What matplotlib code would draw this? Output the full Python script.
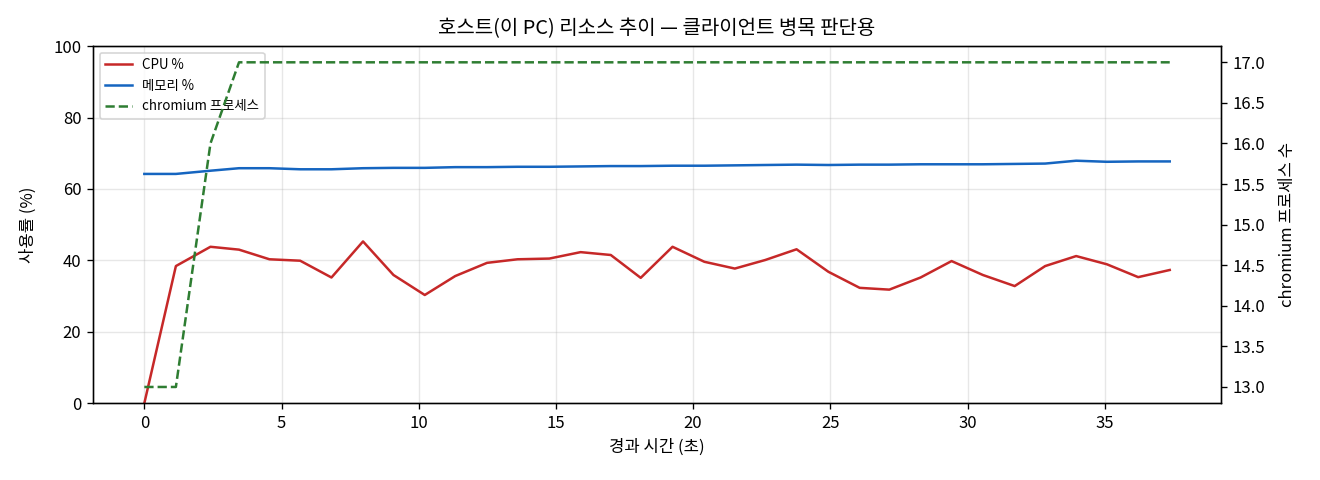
import matplotlib
matplotlib.use("Agg")
import matplotlib.pyplot as plt

plt.rcParams["font.family"] = ["Noto Sans CJK KR", "DejaVu Sans"]
plt.rcParams["axes.unicode_minus"] = False

# elapsed time (s) per sample
elapsed = [0.0, 1.15, 2.41, 3.45, 4.56, 5.68, 6.82, 7.97, 9.08, 10.22, 11.33,
           12.49, 13.60, 14.76, 15.90, 17.00, 18.09, 19.25, 20.41, 21.52, 22.63,
           23.77, 24.93, 26.07, 27.15, 28.29, 29.42, 30.56, 31.72, 32.83, 33.96,
           35.08, 36.22, 37.37]

cpu_pct = [0.0, 38.4, 43.8, 43.0, 40.3, 39.9, 35.2, 45.3, 35.9, 30.3, 35.6,
           39.3, 40.3, 40.5, 42.3, 41.5, 35.1, 43.8, 39.6, 37.7, 40.1,
           43.1, 36.8, 32.3, 31.8, 35.2, 39.8, 35.9, 32.8, 38.4, 41.2,
           38.9, 35.3, 37.3]

mem_pct = [64.2, 64.2, 65.1, 65.8, 65.8, 65.5, 65.5, 65.8, 65.9, 65.9, 66.1,
           66.1, 66.2, 66.2, 66.3, 66.4, 66.4, 66.5, 66.5, 66.6, 66.7,
           66.8, 66.7, 66.8, 66.8, 66.9, 66.9, 66.9, 67.0, 67.1, 67.9,
           67.6, 67.7, 67.7]

chromium_procs = [13, 13, 16, 17, 17, 17, 17, 17, 17, 17, 17,
                  17, 17, 17, 17, 17, 17, 17, 17, 17, 17,
                  17, 17, 17, 17, 17, 17, 17, 17, 17, 17,
                  17, 17, 17]

fig, ax = plt.subplots(figsize=(11, 4), dpi=120)

l1, = ax.plot(elapsed, cpu_pct, color="#c62828", lw=1.5, label="CPU %")
l2, = ax.plot(elapsed, mem_pct, color="#1565c0", lw=1.5, label="메모리 %")
ax.set_ylim(0, 100)
ax.set_xlabel("경과 시간 (초)")
ax.set_ylabel("사용률 (%)", labelpad=10)
ax.grid(True, alpha=0.3)

ax2 = ax.twinx()
l3, = ax2.plot(elapsed, chromium_procs, color="#2e7d32", lw=1.5, ls="--",
               label="chromium 프로세스")
ax2.set_ylabel("chromium 프로세스 수", labelpad=8)

ax.legend(handles=[l1, l2, l3], loc="upper left", fontsize=8)
ax.set_title("호스트(이 PC) 리소스 추이 — 클라이언트 병목 판단용", pad=7)

fig.subplots_adjust(left=0.0705, right=0.925, top=0.904, bottom=0.160)
fig.savefig("out.png")
